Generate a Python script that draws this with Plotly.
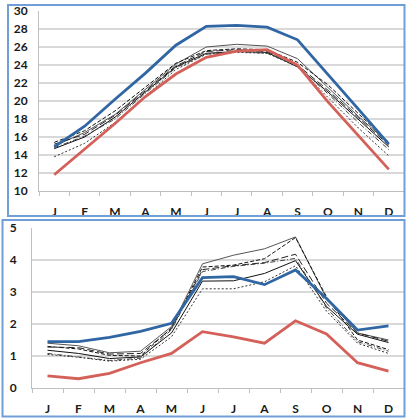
import plotly.graph_objects as go

# Month initials along the category axis
months = ["J", "F", "M", "A", "M", "J", "J", "A", "S", "O", "N", "D"]
idx = list(range(len(months)))

# Upper panel: monthly mean temperature (°C)
temp_obs_high = [14.9, 17.2, 20.2, 23.1, 26.2, 28.3, 28.4, 28.2, 26.8, 23.0, 19.1, 15.2]
temp_obs_low = [11.8, 14.6, 17.5, 20.5, 23.0, 24.85, 25.55, 25.7, 24.0, 19.9, 16.2, 12.4]
temp_m1 = [15.0, 16.5, 18.5, 21.3, 24.1, 26.0, 26.3, 26.1, 24.7, 21.5, 18.3, 15.3]
temp_m2 = [15.4, 16.7, 18.9, 21.6, 24.2, 25.6, 25.8, 25.7, 24.3, 21.8, 18.6, 15.4]
temp_m3 = [15.2, 16.3, 18.4, 21.1, 23.9, 25.5, 25.7, 25.5, 24.0, 21.2, 18.1, 15.1]
temp_m4 = [14.7, 16.0, 18.2, 21.0, 23.8, 25.3, 25.5, 25.4, 23.8, 21.0, 17.9, 14.9]
temp_m5 = [14.8, 16.1, 18.0, 20.8, 23.7, 25.2, 25.5, 25.3, 23.9, 20.8, 17.6, 14.6]
temp_m6 = [13.8, 15.3, 17.6, 20.5, 23.5, 25.2, 25.4, 25.3, 23.8, 20.4, 17.0, 13.9]

# Lower panel: monthly precipitation rate
prec_obs_high = [1.45, 1.45, 1.58, 1.77, 2.02, 3.45, 3.48, 3.23, 3.69, 2.80, 1.81, 1.94]
prec_obs_low = [0.38, 0.29, 0.46, 0.79, 1.08, 1.76, 1.60, 1.40, 2.10, 1.69, 0.79, 0.53]
prec_m1 = [1.40, 1.32, 1.10, 1.15, 1.92, 3.88, 4.15, 4.35, 4.72, 2.80, 1.72, 1.50]
prec_m2 = [1.30, 1.22, 1.02, 1.00, 1.88, 3.78, 3.84, 4.04, 4.70, 2.85, 1.50, 1.20]
prec_m3 = [1.28, 1.26, 1.06, 1.08, 1.85, 3.70, 3.82, 3.92, 4.18, 2.65, 1.72, 1.46]
prec_m4 = [1.18, 1.08, 0.92, 0.97, 1.72, 3.34, 3.35, 3.58, 3.98, 2.55, 1.68, 1.42]
prec_m5 = [1.08, 0.98, 0.86, 0.93, 1.82, 3.64, 3.80, 3.90, 4.05, 2.50, 1.45, 1.15]
prec_m6 = [1.05, 0.96, 0.84, 0.90, 1.60, 3.10, 3.10, 3.32, 3.82, 2.40, 1.40, 1.08]

temp_ticks = list(range(10, 31, 2))
prec_ticks = [0, 1, 2, 3, 4, 5]

BLUE = "#2f66a3"
RED = "#d4605a"
FRAME = "#6f9fd6"
GRID = "#d9d9d9"

W, H = 406, 418

model_styles = [
    dict(color="#555555", width=1, dash="solid"),
    dict(color="#111111", width=1, dash="4px,2px"),
    dict(color="#222222", width=1, dash="7px,3px"),
    dict(color="#111111", width=1, dash="solid"),
    dict(color="#444444", width=1, dash="5px,2px,1px,2px"),
    dict(color="#333333", width=1, dash="2px,2px"),
]

fig = go.Figure()


def add_panel(models, high, low, xa, ya):
    for vals, st in zip(models, model_styles):
        fig.add_trace(go.Scatter(x=idx, y=vals, mode="lines", line=st,
                                 xaxis=xa, yaxis=ya, hoverinfo="skip"))
    fig.add_trace(go.Scatter(x=idx, y=low, mode="lines",
                             line=dict(color=RED, width=2.8), xaxis=xa, yaxis=ya))
    fig.add_trace(go.Scatter(x=idx, y=high, mode="lines",
                             line=dict(color=BLUE, width=2.8), xaxis=xa, yaxis=ya))


add_panel([temp_m1, temp_m2, temp_m3, temp_m4, temp_m5, temp_m6],
          temp_obs_high, temp_obs_low, "x", "y")
add_panel([prec_m1, prec_m2, prec_m3, prec_m4, prec_m5, prec_m6],
          prec_obs_high, prec_obs_low, "x2", "y2")

tick_font = dict(family="Lato, 'Liberation Sans', sans-serif", size=12,
                 color="#1a1a1a", weight="bold")


def xaxis(domain, anchor):
    return dict(domain=domain, anchor=anchor, range=[-0.5, 11.5],
                automargin=False,
                tickmode="array", tickvals=idx, ticktext=months,
                ticks="", showgrid=False, zeroline=False,
                showline=True, linecolor="#bfbfbf", linewidth=1,
                tickfont=tick_font, ticklabelstandoff=10,
                minor=dict(tick0=-0.5, dtick=1, ticks="outside", ticklen=4,
                           tickcolor="#bfbfbf", showgrid=False))


def yaxis(domain, anchor, rng, ticks, standoff):
    return dict(domain=domain, anchor=anchor, range=rng,
                automargin=False,
                tickmode="array", tickvals=ticks,
                showgrid=True, gridcolor=GRID, gridwidth=2,
                zeroline=False, showline=True, linecolor="#bfbfbf",
                linewidth=1, ticks="", tickfont=tick_font,
                ticklabelstandoff=standoff)


fig.update_layout(
    width=W, height=H,
    margin=dict(l=0, r=0, t=0, b=0),
    paper_bgcolor="white", plot_bgcolor="white",
    showlegend=False,
    xaxis=xaxis([39 / W, 404 / W], "y"),
    yaxis=yaxis([1 - 191 / H, 1 - 11 / H], "x", [10, 30], temp_ticks, 8),
    xaxis2=xaxis([32 / W, 404 / W], "y2"),
    yaxis2=yaxis([1 - 388 / H, 1 - 228 / H], "x2", [0, 5], prec_ticks, 12),
    shapes=[
        dict(type="rect", xref="paper", yref="paper",
             x0=8 / W, x1=404.5 / W, y0=1 - 216 / H, y1=1 - 5 / H,
             line=dict(color=FRAME, width=2), layer="above"),
        dict(type="rect", xref="paper", yref="paper",
             x0=2.5 / W, x1=404.5 / W, y0=1 - 416.5 / H, y1=1 - 220 / H,
             line=dict(color=FRAME, width=2), layer="above"),
    ],
)

fig.write_html("out.html")
